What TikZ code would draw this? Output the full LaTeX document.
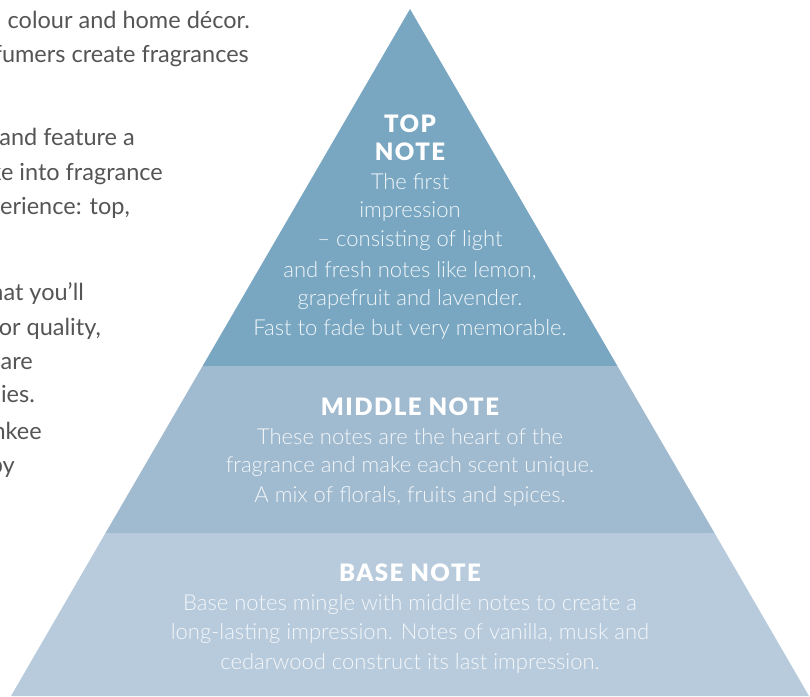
\documentclass[tikz,border=0pt]{standalone}
\usepackage{fontspec}
\setmainfont{Lato}
\newfontfamily\lightfont{Lato Light}
\newfontfamily\titlefont[LetterSpace=6]{Lato Black}
\definecolor{topc}{HTML}{79A7C2}
\definecolor{midc}{HTML}{A0BAD0}
\definecolor{basec}{HTML}{B8CBDC}
\definecolor{bodygray}{HTML}{555555}
\tikzset{
  band/.style={draw=none},
  ttl/.style={font=\titlefont\fontsize{24}{24}\selectfont, text=white, inner sep=0pt, anchor=center},
  bodytxt/.style={font=\lightfont\fontsize{22}{22}\selectfont, inner sep=0pt, anchor=center},
  lefttxt/.style={font=\fontsize{23.5}{23.5}\selectfont, text=bodygray, inner sep=0pt, anchor=base east}
}
\begin{document}
\begin{tikzpicture}[x=1pt,y=-1pt]
\useasboundingbox (0,0) rectangle (810,696);
\fill[white] (0,0) rectangle (810,696);
\clip (0,0) rectangle (810,696);
% pyramid corners
\coordinate (apex) at (410,9);
\coordinate (l1) at (202.6,366);
\coordinate (r1) at (617.4,366);
\coordinate (l2) at (105.5,533);
\coordinate (r2) at (714.5,533);
\coordinate (l3) at (11,696);
\coordinate (r3) at (809,696);
\fill[topc, band] (apex) -- (r1) -- (l1) -- cycle;
\fill[midc, band] (l1) -- (r1) -- (r2) -- (l2) -- cycle;
\fill[basec, band] (l2) -- (r2) -- (r3) -- (l3) -- cycle;
% top note
\node[ttl] (t1) at (410,124) {TOP};
\node[ttl] (t2) at (410,152) {NOTE};
\begin{scope}[every node/.style={bodytxt, text=white!90!topc}]
\node (a1) at (410,182) {The first};
\node (a2) at (410,212) {impression};
\node (a3) at (410,241) {– consisting of light};
\node (a4) at (410,271) {and fresh notes like lemon,};
\node (a5) at (410,300) {grapefruit and lavender.};
\node (a6) at (410,329) {Fast to fade but very memorable.};
\end{scope}
% middle note
\node[ttl] (m0) at (410,407) {MIDDLE NOTE};
\begin{scope}[every node/.style={bodytxt, text=white!88!midc}]
\node (b1) at (410,437) {These notes are the heart of the};
\node (b2) at (410,467) {fragrance and make each scent unique.};
\node (b3) at (410,496) {A mix of florals, fruits and spices.};
\end{scope}
% base note
\node[ttl] (s0) at (410,573) {BASE NOTE};
\begin{scope}[every node/.style={bodytxt, text=white!85!basec}]
\node (c1) at (410,605) {Base notes mingle with middle notes to create a};
\node (c2) at (410,634) {long-lasting impression. Notes of vanilla, musk and};
\node (c3) at (410,663) {cedarwood construct its last impression.};
\end{scope}
% left column text (cut at the left edge)
\node[lefttxt] (p1) at (250,28) {colour and home décor.};
\node[lefttxt] (p2) at (249,62) {fumers create fragrances};
\node[lefttxt] (p3) at (135,145) {and feature a};
\node[lefttxt] (p4) at (163,180) {ke into fragrance};
\node[lefttxt] (p5) at (130,214) {perience: top,};
\node[lefttxt] (p6) at (84,300) {hat you’ll};
\node[lefttxt] (p7) at (101,335) {for quality,};
\node[lefttxt] (p8) at (33,369) {are};
\node[lefttxt] (p9) at (35,402) {ies.};
\node[lefttxt] (p10) at (42,439) {nkee};
\node[lefttxt] (p11) at (15,473) {py};
\end{tikzpicture}
\end{document}
